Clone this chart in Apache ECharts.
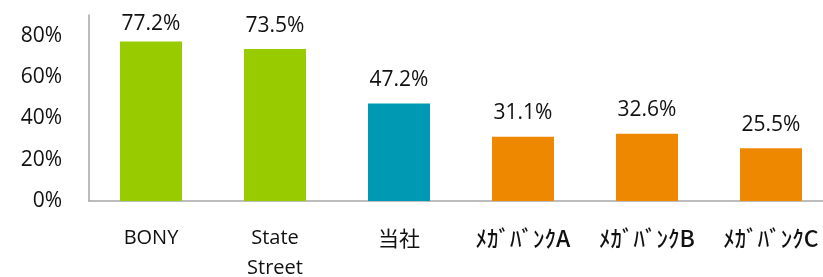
<!DOCTYPE html>
<html lang="ja">
<head>
    <meta charset="UTF-8">
    <script src="https://cdn.jsdelivr.net/npm/echarts@6/dist/echarts.min.js"></script>
    <style>
        html, body { margin: 0; padding: 0; background: #fff; }
        #chart { width: 823px; height: 277px; }
    </style>
</head>
<body>
<div id="chart"></div>
<script>
    var categories = ['BONY', 'State\nStreet', '当社', 'ﾒｶﾞﾊﾞﾝｸA', 'ﾒｶﾞﾊﾞﾝｸB', 'ﾒｶﾞﾊﾞﾝｸC'];
    var values = [77.2, 73.5, 47.2, 31.1, 32.6, 25.5];
    var colors = ['#99cc00', '#99cc00', '#0099b4', '#ee8800', '#ee8800', '#ee8800'];

    var font = '"Open Sans", "Noto Sans CJK JP", sans-serif';

    var chart = echarts.init(document.getElementById('chart'));

    var barData = [];
    for (var i = 0; i < values.length; i++) {
        barData.push({
            value: values[i],
            itemStyle: { color: colors[i] },
            // BONY label sits closer to its bar in the original
            label: { distance: i == 0 ? 7 : 13 }
        });
    }

    chart.setOption({
        animation: false,
        grid: { left: 89, right: -10, top: 15, bottom: 76, outerBoundsMode: 'none' },
        xAxis: {
            type: 'category',
            data: categories,
            axisLine: { lineStyle: { color: '#a6a6a6', width: 1.5 } },
            axisTick: { show: false },
            axisLabel: {
                color: '#111',
                fontSize: 20,
                fontFamily: font,
                margin: 22,
                lineHeight: 30,
                interval: 0,
                formatter: function (v) {
                    // half-width katakana labels look bigger and heavier
                    if (v.indexOf('ﾒ') == 0) return '{k|' + v + '}';
                    if (v == '当社') return '{c|' + v + '}';
                    return v;
                },
                rich: {
                    k: {
                        fontSize: 23,
                        fontWeight: 500,
                        fontFamily: '"Noto Sans CJK JP", sans-serif',
                        color: '#111',
                        lineHeight: 30
                    },
                    c: {
                        fontSize: 21,
                        fontFamily: '"Noto Sans CJK JP", sans-serif',
                        color: '#111',
                        lineHeight: 30
                    }
                }
            }
        },
        yAxis: {
            type: 'value',
            min: 0,
            max: 90,
            interval: 20,
            splitLine: { show: false },
            axisLine: { show: true, lineStyle: { color: '#a6a6a6', width: 1.5 } },
            axisTick: { show: false },
            axisLabel: {
                color: '#111',
                fontSize: 21,
                fontFamily: font,
                margin: 27,
                showMaxLabel: false,
                formatter: '{value}%'
            }
        },
        series: [
            {
                type: 'bar',
                data: barData,
                barWidth: '50%',
                label: {
                    show: true,
                    position: 'top',
                    color: '#111',
                    fontSize: 21,
                    fontFamily: font,
                    formatter: function (p) { return p.value.toFixed(1) + '%'; }
                }
            }
        ]
    });
</script>
</body>
</html>
